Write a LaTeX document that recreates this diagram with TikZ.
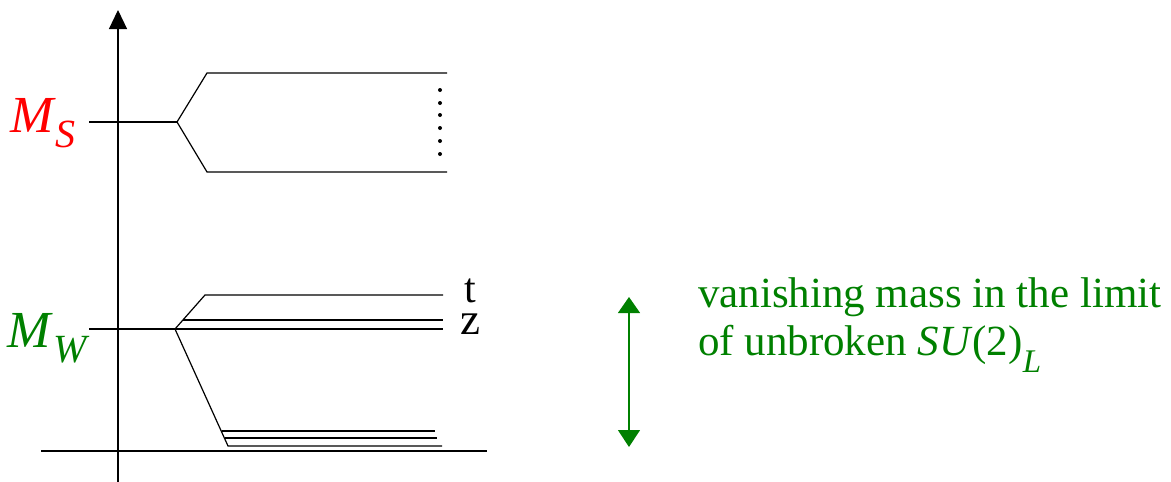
\documentclass[tikz,border=0pt]{standalone}
\usepackage{fontspec}
\setmainfont{Liberation Serif}
\usetikzlibrary{arrows.meta}
\definecolor{mygreen}{RGB}{0,128,0}
\definecolor{myred}{RGB}{255,0,0}
\begin{document}
\begin{tikzpicture}[x=1pt,y=-1pt,
  lvl/.style={line width=1.2pt,black},
  lbl/.style={anchor=base west,inner sep=0pt,outer sep=0pt},
  dotm/.style={circle,fill=black,inner sep=0pt,minimum size=4pt}]
\useasboundingbox (0,0) rectangle (1171,482);
% axes
\coordinate (ybot) at (118,482);
\coordinate (ytop) at (118,10);
\coordinate (xl) at (41,451);
\coordinate (xr) at (487,451);
\draw[line width=1.2pt,-{Triangle[width=18pt,length=19pt]}] (ybot) -- (ytop);
\draw[lvl] (xl) -- (xr);
% M_S splitting
\coordinate (s0) at (89,122);
\coordinate (s1) at (177,122);
\coordinate (s2) at (207,73);
\coordinate (s3) at (447,73);
\coordinate (s4) at (207,172);
\coordinate (s5) at (447,172);
\draw[lvl] (s0) -- (s1);
\draw[lvl] (s3) -- (s2) -- (s1) -- (s4) -- (s5);
\foreach \i/\yy in {1/90,2/103,3/115,4/128,5/141,6/154}
  \node[dotm] (d\i) at (440,\yy) {};
% M_W splitting
\coordinate (w0) at (89,329);
\coordinate (w1) at (175,329);
\coordinate (w2) at (205,295);
\coordinate (wt) at (443,295);
\coordinate (wz1a) at (183,320);
\coordinate (wz1) at (443,320);
\coordinate (wz2) at (443,329);
\coordinate (wd) at (228,446);
\draw[lvl] (w0) -- (wz2);
\draw[lvl] (wt) -- (w2) -- (w1) -- (wd) -- (442,446);
\draw[lvl] (wz1a) -- (wz1);
\draw[lvl] (222,431) -- (435,431);
\draw[lvl] (225,438) -- (437,438);
% labels
\node[lbl,text=myred] (ms) at (10,132) {\fontsize{52}{52}\selectfont\textit{M}\raisebox{-15pt}{\fontsize{40}{40}\selectfont\textit{S}}};
\node[lbl,text=mygreen] (mw) at (8,347) {\fontsize{52}{52}\selectfont\textit{M}\raisebox{-15pt}{\fontsize{40}{40}\selectfont\textit{W}}};
\node[lbl,text depth=0pt,font=\fontsize{42}{42}\selectfont] (tl) at (464,302) {t};
\node[lbl,text height=20pt,font=\fontsize{45}{45}\selectfont] (zl) at (460,334) {z};
% green arrow
\coordinate (ga) at (629,297);
\coordinate (gb) at (629,447);
\draw[mygreen,line width=1.3pt,{Triangle[width=22pt,length=17pt]}-{Triangle[width=22pt,length=16pt]}] (gb) -- (ga);
\node[lbl,text=mygreen,align=left,font=\fontsize{43}{48}\selectfont] (txt) at (698,355) {vanishing mass in the limit\\of unbroken \textit{SU}(2)\raisebox{-17pt}{\fontsize{33}{33}\selectfont\textit{L}}};
\end{tikzpicture}
\end{document}
